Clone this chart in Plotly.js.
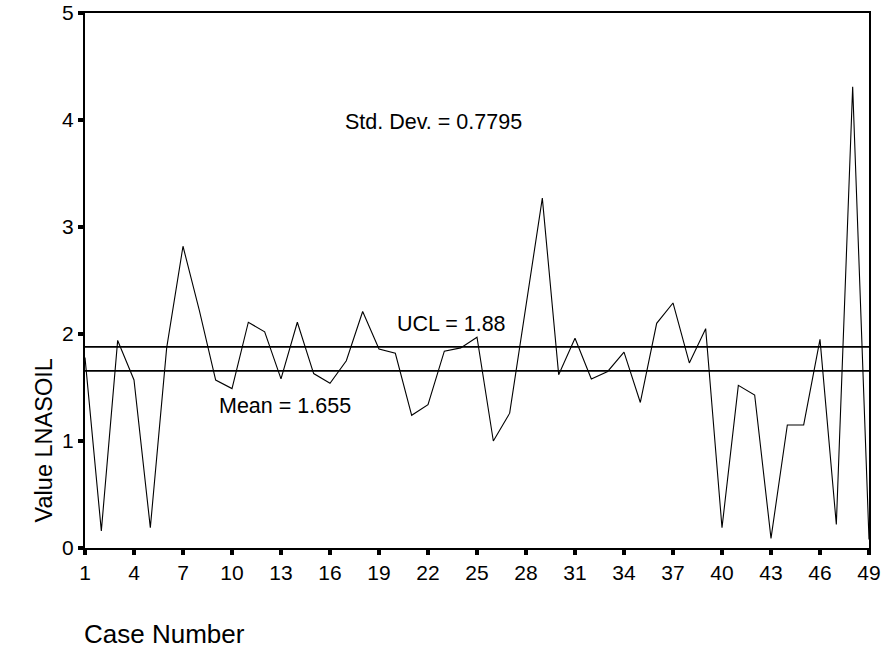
<!DOCTYPE html>
<html>
<head>
<meta charset="utf-8">
<script src="https://cdn.plot.ly/plotly-3.0.1.min.js"></script>
<style>
  html, body { margin: 0; padding: 0; background: #fff; }
  #chart { width: 887px; height: 650px; }
</style>
</head>
<body>
<div id="chart"></div>
<script>
// Case numbers 1..49
const caseNumbers = [1,2,3,4,5,6,7,8,9,10,11,12,13,14,15,16,17,18,19,20,21,22,23,24,25,
  26,27,28,29,30,31,32,33,34,35,36,37,38,39,40,41,42,43,44,45,46,47,48,49];
// Value LNASOIL per case
const lnasoil = [1.78,0.16,1.94,1.57,0.19,1.87,2.82,2.22,1.57,1.49,
  2.11,2.02,1.58,2.11,1.63,1.54,1.75,2.21,1.86,1.82,
  1.24,1.34,1.84,1.87,1.97,1.00,1.26,2.27,3.27,1.62,
  1.96,1.58,1.65,1.83,1.36,2.10,2.29,1.73,2.05,0.19,
  1.52,1.43,0.09,1.15,1.15,1.95,0.22,4.31,0.08];
const meanValue = 1.655;
const uclValue = 1.88;
const stdDev = 0.7795;
const xTickVals = [1,4,7,10,13,16,19,22,25,28,31,34,37,40,43,46,49];
const yTickVals = [0,1,2,3,4,5];

const font = 'Arial, "Liberation Sans", sans-serif';

const traces = [
  { x: caseNumbers, y: lnasoil, type: 'scatter', mode: 'lines',
    line: { color: '#000', width: 1.1 }, hoverinfo: 'x+y' },
  { x: [caseNumbers[0], caseNumbers[caseNumbers.length-1]], y: [uclValue, uclValue],
    type: 'scatter', mode: 'lines', line: { color: '#000', width: 1.6 } },
  { x: [caseNumbers[0], caseNumbers[caseNumbers.length-1]], y: [meanValue, meanValue],
    type: 'scatter', mode: 'lines', line: { color: '#000', width: 1.6 } }
];

const annFont = { family: font, size: 21.5, color: '#000' };

const layout = {
  width: 887, height: 650,
  margin: { l: 85, r: 18, t: 13, b: 102, pad: 0 },
  paper_bgcolor: '#fff', plot_bgcolor: '#fff',
  showlegend: false,
  font: { family: font, color: '#000', size: 21 },
  xaxis: {
    range: [1, 49], tickvals: xTickVals, ticktext: xTickVals.map(String),
    showline: true, linecolor: '#000', linewidth: 2, mirror: true,
    ticks: 'outside', ticklen: 5, tickwidth: 4, tickcolor: '#000',
    showgrid: false, zeroline: false,
    tickfont: { family: font, size: 21, color: '#000' }
  },
  yaxis: {
    range: [0, 5], tickvals: yTickVals, ticktext: yTickVals.map(String),
    showline: true, linecolor: '#000', linewidth: 2, mirror: true,
    ticks: 'outside', ticklen: 5, tickwidth: 4, tickcolor: '#000',
    showgrid: false, zeroline: false,
    tickfont: { family: font, size: 21, color: '#000' }
  },
  annotations: [
    { text: 'Std. Dev. = ' + stdDev, x: 16.8, y: 3.98, xref: 'x', yref: 'y',
      xanchor: 'left', yanchor: 'middle', showarrow: false, font: annFont },
    { text: 'UCL = ' + uclValue, x: 20.0, y: 2.09, xref: 'x', yref: 'y',
      xanchor: 'left', yanchor: 'middle', showarrow: false, font: annFont },
    { text: 'Mean = ' + meanValue, x: 9.1, y: 1.33, xref: 'x', yref: 'y',
      xanchor: 'left', yanchor: 'middle', showarrow: false, font: annFont },
    { text: 'Case Number', x: -0.004, y: -0.161, xref: 'paper', yref: 'paper',
      xanchor: 'left', yanchor: 'middle', showarrow: false,
      font: { family: font, size: 26, color: '#000' } },
    { text: 'Value LNASOIL', x: -0.053, y: 0.202, xref: 'paper', yref: 'paper',
      xanchor: 'center', yanchor: 'middle', textangle: -90, showarrow: false,
      font: { family: font, size: 23.5, color: '#000' } }
  ]
};

Plotly.newPlot('chart', traces, layout, { displayModeBar: false, staticPlot: true });
</script>
</body>
</html>
